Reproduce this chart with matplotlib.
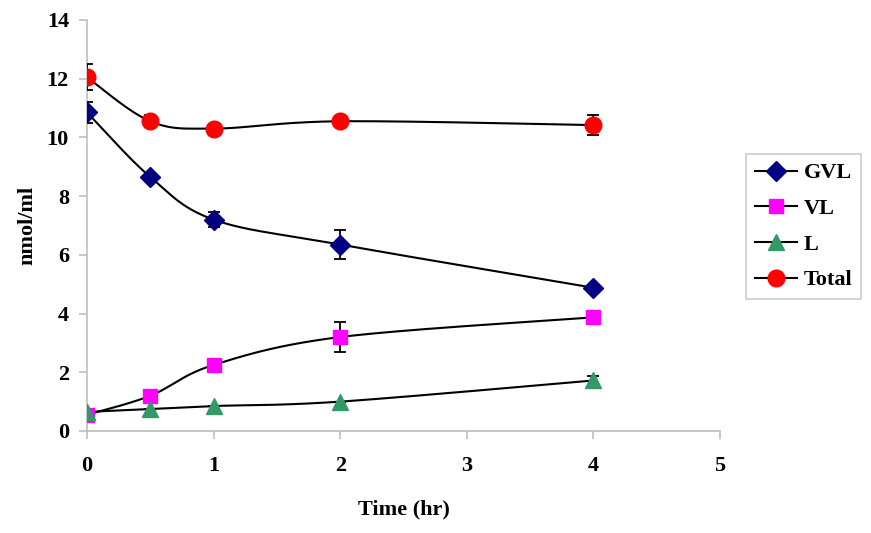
import numpy as np
import matplotlib
matplotlib.use("Agg")
import matplotlib.pyplot as plt
from matplotlib.lines import Line2D

plt.rcParams["font.family"] = ["Liberation Serif", "DejaVu Serif"]
plt.rcParams["font.weight"] = "bold"

# data
time_hr = [0, 0.5, 1, 2, 4]
gvl = [10.85, 8.65, 7.2, 6.35, 4.88]
gvl_err = [0.35, 0.0, 0.25, 0.48, 0.0]
vl = [0.55, 1.2, 2.25, 3.2, 3.87]
vl_err = [0.0, 0.0, 0.0, 0.5, 0.0]
l_vals = [0.65, 0.75, 0.85, 1.0, 1.72]
l_err = [0.0, 0.0, 0.0, 0.0, 0.15]
total = [12.05, 10.55, 10.3, 10.55, 10.42]
total_err = [0.45, 0.2, 0.0, 0.0, 0.33]

series = [
    ("GVL", gvl, gvl_err, "D", "#000080", 10),
    ("VL", vl, vl_err, "s", "#FF00FF", 10),
    ("L", l_vals, l_err, "^", "#339966", 12),
    ("Total", total, total_err, "o", "#FF0000", 12),
]


def smooth(xs, ys, n=40):
    # Excel-style smoothed line (Catmull-Rom bezier through the points)
    p = np.column_stack([xs, ys]).astype(float)
    out = []
    for i in range(len(p) - 1):
        p0 = p[i - 1] if i > 0 else p[i]
        p3 = p[i + 2] if i + 2 < len(p) else p[i + 1]
        c1 = p[i] + (p[i + 1] - p0) / 6
        c2 = p[i + 1] - (p3 - p[i]) / 6
        t = np.linspace(0, 1, n)[:, None]
        seg = ((1 - t) ** 3 * p[i] + 3 * (1 - t) ** 2 * t * c1
               + 3 * (1 - t) * t ** 2 * c2 + t ** 3 * p[i + 1])
        out.append(seg)
    out = np.vstack(out)
    return out[:, 0], out[:, 1]


fig = plt.figure(figsize=(8.71, 5.33), dpi=100)
ax = fig.add_axes([0.0999, 0.1914, 0.7267, 0.7711])

handles = []
for name, ys, err, mk, col, ms in series:
    sx, sy = smooth(time_hr, ys)
    ax.plot(sx, sy, color="black", lw=1.5, zorder=2)
    ax.errorbar(time_hr, ys, yerr=err, fmt="none", ecolor="black",
                elinewidth=1.3, capsize=4.5, capthick=1.3, zorder=3)
    ax.plot(time_hr, ys, linestyle="none", marker=mk, markersize=ms,
            markerfacecolor=col, markeredgecolor=col, zorder=4)
    handles.append(Line2D([], [], color="black", lw=1.5, marker=mk,
                          markersize=ms, markerfacecolor=col,
                          markeredgecolor=col, label=name))

ax.set_xlim(0, 5)
ax.set_ylim(0, 14)
ax.set_xticks(range(0, 6))
ax.set_yticks(range(0, 15, 2))

for side in ["top", "right"]:
    ax.spines[side].set_visible(False)
for side in ["left", "bottom"]:
    ax.spines[side].set_color("#bfbfbf")
    ax.spines[side].set_linewidth(1.2)

ax.tick_params(axis="both", colors="#bfbfbf", labelcolor="black",
               labelsize=16, length=6, width=1.2)
ax.tick_params(axis="x", pad=12)
ax.tick_params(axis="y", pad=7)
for lab in ax.get_xticklabels() + ax.get_yticklabels():
    lab.set_fontweight("bold")

ax.set_xlabel("Time (hr)", fontsize=16, fontweight="bold", labelpad=17)
ax.set_ylabel("nmol/ml", fontsize=16, fontweight="bold", labelpad=7)

leg = fig.legend(handles=handles, loc="upper left",
                 bbox_to_anchor=(746 / 871, 1 - 154 / 533),
                 borderaxespad=0, frameon=True, fancybox=False,
                 handlelength=1.9, borderpad=0.4, labelspacing=0.68,
                 handletextpad=0.3,
                 prop={"family": "Liberation Serif", "weight": "bold", "size": 16})
leg.get_frame().set_edgecolor("#bfbfbf")
leg.get_frame().set_linewidth(1.2)

fig.savefig("out.png", dpi=100)
